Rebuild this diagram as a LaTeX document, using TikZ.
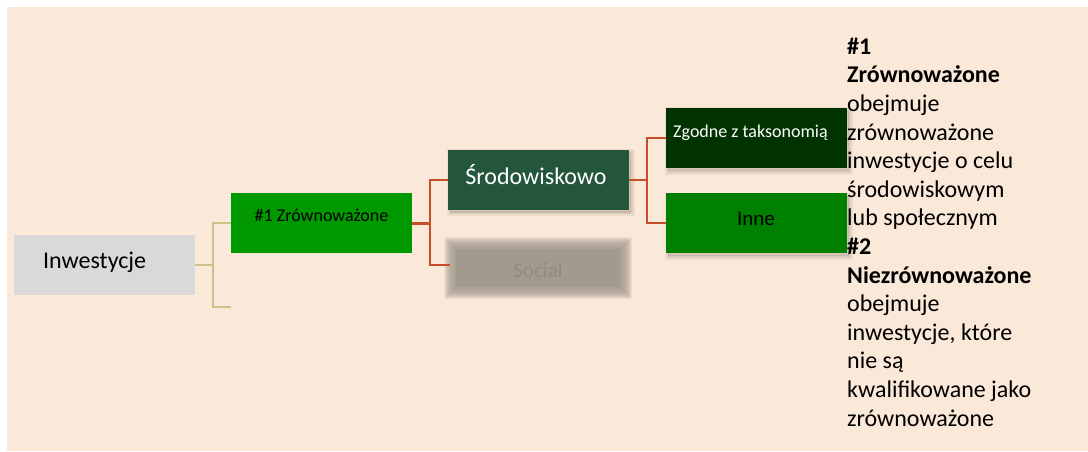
\documentclass[tikz,border=0pt]{standalone}
\usepackage{fontspec}
\setmainfont{Carlito}
\usetikzlibrary{calc, positioning}

\definecolor{bgbeige}{RGB}{250,232,216}
\definecolor{invgray}{RGB}{217,217,217}
\definecolor{susgreen}{RGB}{0,153,0}
\definecolor{envgreen}{RGB}{36,86,60}
\definecolor{taxgreen}{RGB}{0,51,0}
\definecolor{othgreen}{RGB}{0,128,0}
\definecolor{socgray}{RGB}{163,154,142}
\definecolor{soctext}{RGB}{138,128,117}
\definecolor{lineyellow}{RGB}{201,195,138}
\definecolor{linered}{RGB}{200,78,42}

\tikzset{
  box/.style={minimum width=181pt, minimum height=60pt, inner sep=0pt, outer sep=0pt},
  shadowed/.style={
    preaction={fill=black, fill opacity=0.10, draw=black, draw opacity=0.07, line width=3pt,
               transform canvas={shift={(2pt,-3pt)}}},
    preaction={draw=black, draw opacity=0.05, line width=7pt,
               transform canvas={shift={(2pt,-3pt)}}}},
  txt/.style={inner sep=0pt},
  small/.style={font=\fontsize{18}{21}\selectfont},
  yellowfork/.style={line width=1.5pt, lineyellow},
  redfork/.style={line width=2pt, linered}
}

\begin{document}
\begin{tikzpicture}[x=1pt, y=-1pt, font=\fontsize{24}{28.6}\selectfont]

  \useasboundingbox (0,0) rectangle (1088,452);
  \fill[white] (0,0) rectangle (1088,452);
  \fill[bgbeige] (7,7) rectangle (1088,451);

  \node[box, fill=invgray] (inv) at (104.5,265) {};
  \node[txt, anchor=base west] (invtxt) at (43,268) {Inwestycje};

  \node[box, fill=susgreen] (sus) at (321.5,223) {};
  \node[txt, small, anchor=base] (sustxt) at (321.5,221) {\#1 Zrównoważone};

  \node[box, fill=envgreen, shadowed] (env) at (538.5,179.5) {};
  \node[txt, anchor=base, text=white] (envtxt) at (536,184) {Środowiskowo};

  \node[box, minimum width=176pt, minimum height=50pt] (soc) at (538,268) {};
  \fill[socgray] ($(soc.north west)+(6,6)$) rectangle ($(soc.south east)+(-6,-6)$);
  \foreach \r in {-6,-5.25,...,6}
    \fill[socgray, opacity=0.12] ($(soc.north west)+(-\r,-\r)$) rectangle ($(soc.south east)+(\r,\r)$);
  \node[txt, anchor=base, text=soctext, opacity=0.6, font=\fontsize{21}{25}\selectfont] (soctxt) at (538,277) {Social};

  \node[box, fill=taxgreen, shadowed] (tax) at (756.5,138) {};
  \node[txt, small, anchor=base west, text=white] (taxtxt) at (673,138) {Zgodne z taksonomią};

  \node[box, fill=othgreen, shadowed] (oth) at (756.5,223) {};
  \node[txt, anchor=base, font=\fontsize{21}{25}\selectfont] (othtxt) at (756,225) {Inne};

  \coordinate (nonsus) at (231,307);

  \draw[yellowfork] (inv.east) -- ++(18,0) coordinate (fork1) |- (sus.west);
  \draw[yellowfork] (fork1) |- (nonsus);

  \draw[redfork, line width=3pt] (sus.east) -- ++(18,0) coordinate (fork2);
  \draw[redfork] (fork2) |- (env.west);
  \draw[redfork] (fork2) |- ([yshift=3pt]soc.west);

  \draw[redfork] (env.east) -- ++(18,0) coordinate (fork3) |- (tax.west);
  \draw[redfork] (fork3) |- (oth.west);

  \node[txt, anchor=north west, align=left] (note) at (847,37.7)
    {\textbf{\#1}\\ \textbf{Zrównoważone}\\ obejmuje\\ zrównoważone\\ inwestycje o celu\\
     środowiskowym\\ lub społecznym\\ \textbf{\#2}\\ \textbf{Niezrównoważone}\\ obejmuje\\
     inwestycje, które\\ nie są\\ kwalifikowane jako\\ zrównoważone};

\end{tikzpicture}
\end{document}
